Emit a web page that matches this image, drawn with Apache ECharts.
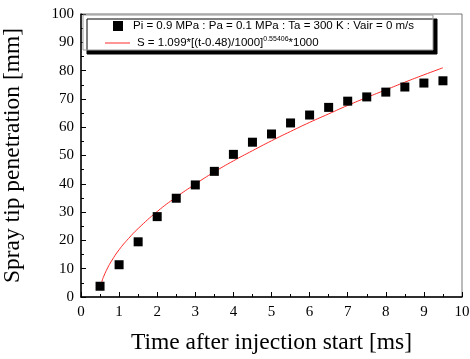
<!DOCTYPE html>
<html>
<head>
<meta charset="utf-8">
<script src="https://cdn.jsdelivr.net/npm/echarts@6/dist/echarts.min.js"></script>
<style>
  html, body { margin: 0; padding: 0; background: #fff; }
  #chart { width: 470px; height: 359px; }
</style>
</head>
<body>
<div id="chart"></div>
<script>
// measured spray tip penetration
const measTime = [0.5, 1, 1.5, 2, 2.5, 3, 3.5, 4, 4.5, 5, 5.5, 6, 6.5, 7, 7.5, 8, 8.5, 9, 9.5];
const measPen = [3.8, 11.4, 19.5, 28.4, 34.9, 39.6, 44.4, 50.4, 54.7, 57.6, 61.5, 64.3, 67.0, 69.2, 70.7, 72.4, 74.2, 75.6, 76.4];

// fitted curve
const fitTime = [0.5, 0.55, 0.6, 0.7, 0.8, 1, 1.25, 1.5, 2, 2.5, 3, 3.5, 4, 4.5, 5, 5.5, 6, 6.5, 7, 7.5, 8, 8.5, 9, 9.5];
const fitPen = [2.7, 5.5, 7.4, 10.3, 12.7, 16.7, 20.7, 24.2, 30.2, 35.3, 39.9, 44.2, 48.1, 51.7, 55.2, 58.5, 61.7, 64.7, 67.7, 70.5, 73.2, 75.9, 78.5, 81.0];

const measName = 'Pi = 0.9 MPa : Pa = 0.1 MPa : Ta = 300 K : Vair = 0 m/s';
const fitName = 'S = 1.099*[(t-0.48)/1000]^0.55406*1000';

const serif = '"Liberation Serif", "DejaVu Serif", serif';
const sans = '"Liberation Sans", Arial, sans-serif';

let chart = echarts.init(document.getElementById('chart'));

let options = {
    backgroundColor: '#fff',
    animation: false,
    grid: {
        left: 81, right: 8, top: 14, bottom: 62,
        outerBoundsMode: 'none', containLabel: false,
        show: true, borderColor: '#777', borderWidth: 1
    },
    xAxis: {
        type: 'value', min: 0, max: 10, interval: 1,
        name: 'Time after injection start [ms]',
        nameLocation: 'middle', nameGap: 34,
        nameTextStyle: {fontFamily: serif, fontSize: 23.5, color: '#000'},
        axisLine: {lineStyle: {color: '#000', width: 1.5}},
        axisTick: {inside: true, length: 5, lineStyle: {color: '#000'}},
        minorTick: {show: true, splitNumber: 2, length: 3, lineStyle: {color: '#000'}},
        axisLabel: {fontFamily: serif, fontSize: 15, color: '#000', margin: 8},
        splitLine: {show: false}
    },
    yAxis: {
        type: 'value', min: 0, max: 100, interval: 10,
        name: 'Spray tip penetration [mm]',
        nameLocation: 'middle', nameGap: 56,
        nameTextStyle: {fontFamily: serif, fontSize: 23.5, color: '#000'},
        axisLine: {lineStyle: {color: '#000', width: 1.5}},
        axisTick: {inside: true, length: 5, lineStyle: {color: '#000'}},
        minorTick: {show: true, splitNumber: 2, length: 3, lineStyle: {color: '#000'}},
        axisLabel: {fontFamily: serif, fontSize: 15, color: '#000', margin: 7},
        splitLine: {show: false}
    },
    graphic: [{
        type: 'rect', z: 5,
        shape: {x: 83, y: 15, width: 350, height: 35},
        style: {
            fill: '#fff', stroke: '#999', lineWidth: 1,
            shadowColor: '#000', shadowOffsetX: 4, shadowOffsetY: 4, shadowBlur: 0
        }
    }],
    legend: [{
        data: [measName], z: 10,
        left: 113, top: 20, padding: 0,
        itemWidth: 10, itemHeight: 10,
        textStyle: {fontFamily: sans, fontSize: 11.5, color: '#000', padding: [0, 0, 0, 5]}
    }, {
        data: [{name: fitName, icon: 'rect'}], z: 10,
        left: 105, top: 36, padding: 0,
        itemWidth: 25, itemHeight: 1,
        formatter: () => '{b|S = 1.099*[(t-0.48)/1000]}{s|0.55406}{b|*1000}',
        textStyle: {
            fontFamily: sans, fontSize: 11.5, color: '#000', padding: [0, 0, 0, 2],
            rich: {
                b: {fontFamily: sans, fontSize: 11.5, color: '#000'},
                s: {fontFamily: sans, fontSize: 7, color: '#000', padding: [0, 0, 7, 0]}
            }
        }
    }],
    series: [{
        name: measName, type: 'scatter',
        symbol: 'rect', symbolSize: 9,
        itemStyle: {color: '#000', opacity: 1},
        data: measTime.map((t, i) => [t, measPen[i]]),
        z: 3
    }, {
        name: fitName, type: 'line',
        symbol: 'none', smooth: true,
        lineStyle: {color: '#ff2a2a', width: 1},
        itemStyle: {color: '#ff2a2a'},
        data: fitTime.map((t, i) => [t, fitPen[i]]),
        z: 2
    }]
};
chart.setOption(options);
</script>
</body>
</html>
